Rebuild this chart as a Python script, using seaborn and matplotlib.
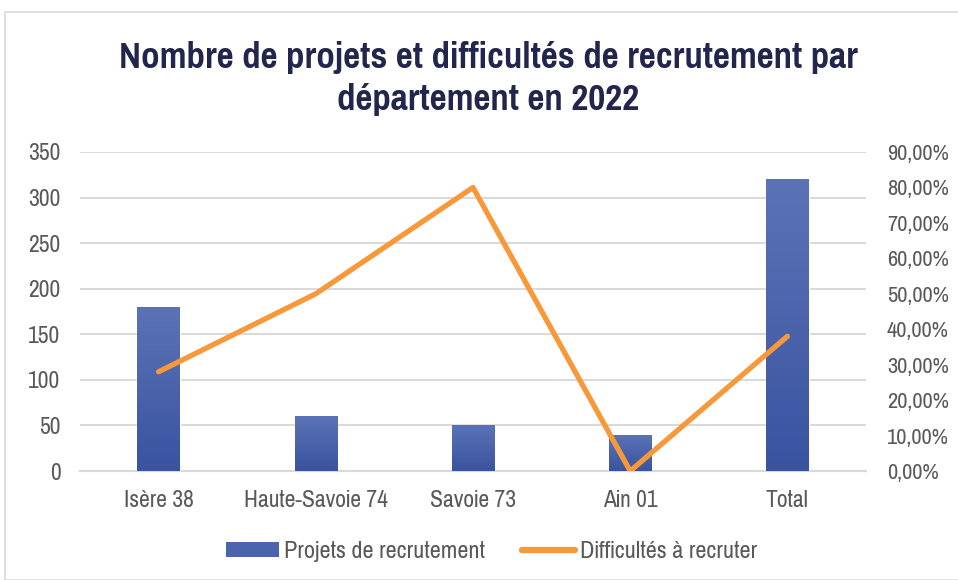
import matplotlib
matplotlib.use("Agg")
import matplotlib.pyplot as plt
import matplotlib.patches as mpatches
from matplotlib.lines import Line2D
from matplotlib.colors import LinearSegmentedColormap
import numpy as np
import pandas as pd
import seaborn as sns

categories = ["Isère 38", "Haute-Savoie 74", "Savoie 73", "Ain 01", "Total"]
projets = [180, 60, 50, 40, 320]
difficultes = [0.28, 0.50, 0.80, 0.00, 0.38]
left_ticks = [0, 50, 100, 150, 200, 250, 300, 350]
right_ticks = [0.0, 0.1, 0.2, 0.3, 0.4, 0.5, 0.6, 0.7, 0.8, 0.9]

sns.set_theme(style="white")
plt.rcParams["font.family"] = ["Pragati Narrow", "Liberation Sans", "DejaVu Sans"]

df = pd.DataFrame({"cat": categories, "projets": projets, "diff": difficultes})

fig = plt.figure(figsize=(9.58, 5.8), dpi=100)
fig.patch.set_facecolor("white")
fig.add_artist(mpatches.Rectangle((5 / 958, 0), 1.2, 1 - 12 / 580, transform=fig.transFigure,
                                  fill=False, edgecolor="#d9d9d9", lw=1.2))
ax = fig.add_axes([80 / 958, 1 - 471 / 580, (866 - 80) / 958, (471 - 152) / 580])
ax2 = ax.twinx()

sns.barplot(data=df, x="cat", y="projets", ax=ax, color="#4360ab", width=0.27,
            saturation=1, zorder=3)
grad = np.linspace(0, 1, 256).reshape(-1, 1)
cmap = LinearSegmentedColormap.from_list("g", ["#3a53a0", "#5b73b6"])
for p in list(ax.patches):
    x0, y0 = p.get_x(), p.get_y()
    w, h = p.get_width(), p.get_height()
    im = ax.imshow(grad, extent=[x0, x0 + w, y0, y0 + h], origin="lower",
                   aspect="auto", cmap=cmap, zorder=4)
    im.set_clip_path(p)
ax.set_xlim(-0.5, 4.5)
ax.set_ylim(0, 350)
ax.set_yticks(left_ticks)

sns.lineplot(data=df, x="cat", y="diff", ax=ax2, color="#f7993a", lw=3.8,
             solid_capstyle="round", zorder=5, sort=False)
ax2.set_ylim(0, 0.9)
ax2.set_xlim(-0.5, 4.5)
ax2.set_yticks(right_ticks)
ax2.set_yticklabels([f"{t*100:.2f}%".replace(".", ",") for t in right_ticks])

ax.yaxis.grid(True, color="#d9d9d9", lw=1.4, zorder=0)
ax.set_axisbelow(True)
for a in (ax, ax2):
    for s in a.spines.values():
        s.set_visible(False)
    a.set_xlabel("")
    a.set_ylabel("")
    a.tick_params(length=0, labelsize=18.5, colors="#595959")
ax.spines["bottom"].set_visible(True)
ax.spines["bottom"].set_color("#d9d9d9")
ax.spines["bottom"].set_linewidth(1.6)
ax.tick_params(axis="y", pad=14)
ax.tick_params(axis="x", pad=14)
ax2.tick_params(axis="y", pad=15, labelsize=17.5)

fig.text(488 / 958, 1 - 57 / 580, "Nombre de projets et difficultés de recrutement par",
         ha="center", va="center", fontsize=29, fontweight="bold", color="#22264d")
fig.text(488 / 958, 1 - 99 / 580, "département en 2022",
         ha="center", va="center", fontsize=29, fontweight="bold", color="#22264d")

handles = [mpatches.Patch(facecolor="#4a64ad", edgecolor="none", label="Projets de recrutement"),
           Line2D([0], [0], color="#f7993a", lw=4.5, solid_capstyle="round", label="Difficultés à recruter")]
fig.legend(handles=handles, loc="center", bbox_to_anchor=(492 / 958, 1 - 552 / 580), ncol=2,
           frameon=False, fontsize=19, labelcolor="#595959", handlelength=2.0,
           handleheight=0.5, columnspacing=1.4, handletextpad=0.2)

fig.savefig("out.png", dpi=100, facecolor="white")
